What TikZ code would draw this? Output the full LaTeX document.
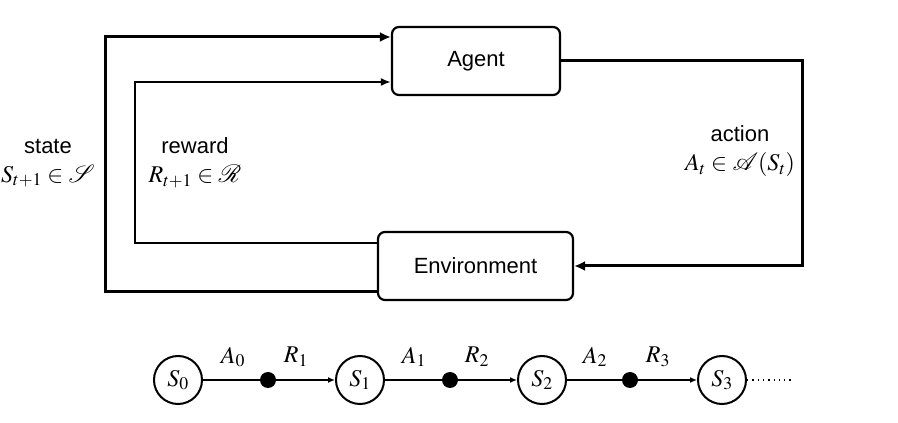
\documentclass[tikz,border=0pt]{standalone}
\usepackage{mathptmx}
\usepackage{mathrsfs}
\usepackage{fontspec}
\setmainfont{Liberation Sans}
\usepackage{tikz}
\usetikzlibrary{arrows.meta,positioning}
\newcommand{\bigmath}{\fontsize{24}{24}\selectfont}
\tikzset{
  block/.style={draw, line width=2.2pt, rounded corners=7pt, minimum height=68pt, inner sep=0pt, font=\fontsize{22}{26}\selectfont},
  statearrow/.style={line width=3pt, -{Latex[length=11pt,width=10pt]}},
  rewardarrow/.style={line width=2pt, -{Latex[length=10pt,width=8pt]}},
  actionarrow/.style={line width=3pt, -{Latex[length=11pt,width=10pt]}},
  lbl/.style={align=center, inner sep=0pt, font=\fontsize{22}{25}\selectfont},
  snode/.style={circle, draw, line width=2pt, minimum size=48pt, inner sep=0pt, font=\fontsize{24}{24}\selectfont},
  dot/.style={circle, fill, minimum size=16pt, inner sep=0pt},
  chainline/.style={line width=1.3pt},
  chainarrow/.style={line width=1.3pt, -{Latex[length=7pt,width=6pt]}},
  chainlbl/.style={inner sep=0pt, font=\fontsize{24}{24}\selectfont},
  trail/.style={line width=1.3pt, dash pattern=on 1.3pt off 4pt}
}

\begin{document}
\begin{tikzpicture}[x=1pt,y=1pt]
  \useasboundingbox (0,0) rectangle (898,423);
  \fill[white] (0,0) rectangle (898,423);

  % the two boxes
  \node[block, minimum width=168pt] (agent) at (476,362) {Agent};
  \node[block, minimum width=195pt] (env) at (475.5,157) {Environment};

  % loop corners
  \coordinate (stateL) at (105,0);
  \coordinate (rewardL) at (135,0);
  \coordinate (actionR) at (802,0);
  \coordinate (stateOut) at ([yshift=-26pt]env.west);
  \coordinate (stateIn) at ([yshift=24pt]agent.west);
  \coordinate (rewardOut) at ([yshift=23pt]env.west);
  \coordinate (rewardIn) at ([yshift=-21pt]agent.west);

  \draw[statearrow] (stateOut) -- (stateOut -| stateL) -- (stateIn -| stateL) -- (stateIn);
  \draw[rewardarrow] (rewardOut) -- (rewardOut -| rewardL) -- (rewardIn -| rewardL) -- (rewardIn);
  \draw[actionarrow] (agent.east) -- (agent.east -| actionR) -- (env.east -| actionR) -- (env.east);

  \node[lbl] (statelbl) at (48,260) {state\\[4pt]\bigmath$S_{t+1}\in\mathscr{S}$};
  \node[lbl] (rewardlbl) at (195,260) {reward\\[4pt]\bigmath$R_{t+1}\in\mathscr{R}$};
  \node[lbl] (actionlbl) at (740,272) {action\\[4pt]\bigmath$A_t\in\mathscr{A}(S_t)$};

  % trajectory
  \foreach \i/\x in {0/178,1/360,2/542,3/722}
    \node[snode] (s\i) at (\x,43) {$S_\i$};
  \foreach \i/\x in {0/268,1/450,2/630}
    \node[dot] (d\i) at (\x,43) {};
  \foreach \i/\j in {0/1,1/2,2/3} {
    \draw[chainline] (s\i) -- (d\i);
    \draw[chainarrow] (d\i) -- (s\j);
  }
  \foreach \i/\x in {0/233,1/414,2/595}
    \node[chainlbl] (a\i) at (\x,66) {$A_\i$};
  \foreach \i/\x in {1/296,2/477,3/658}
    \node[chainlbl] (r\i) at (\x,66) {$R_\i$};
  \coordinate (more) at (793,43);
  \draw[trail] (s3) -- (more);
\end{tikzpicture}
\end{document}
